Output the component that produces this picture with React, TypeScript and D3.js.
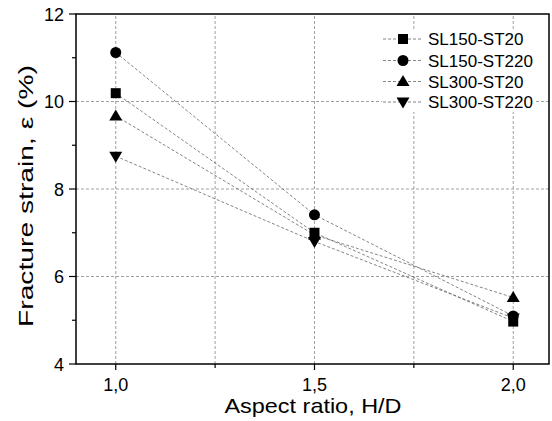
import React from "react";
import * as d3 from "d3";

const aspectRatios = [1.0, 1.5, 2.0];
const seriesNames = ["SL150-ST20", "SL150-ST220", "SL300-ST20", "SL300-ST220"];
const sl150st20 = [10.19, 7.0, 4.97];
const sl150st220 = [11.12, 7.41, 5.1];
const sl300st20 = [9.67, 6.95, 5.52];
const sl300st220 = [8.75, 6.8, 5.05];
const markerShapes = ["square", "circle", "triangleUp", "triangleDown"];
const xTicks = [1.0, 1.5, 2.0];
const xMinorTicks = [1.25, 1.75];
const yTicks = [4, 6, 8, 10, 12];
const yMinorTicks = [5, 7, 9, 11];

const W = 552;
const H = 421;
const M = { left: 76, right: 3, top: 14, bottom: 57 };

function Marker({ shape, x, y }: { shape: string; x: number; y: number }) {
  if (shape === "square") return <rect x={x - 5} y={y - 5} width={10} height={10} fill="#000" />;
  if (shape === "circle") return <circle cx={x} cy={y} r={5.5} fill="#000" />;
  if (shape === "triangleUp")
    return <path d={`M${x},${y - 6.5}L${x + 6.5},${y + 4.5}L${x - 6.5},${y + 4.5}Z`} fill="#000" />;
  return <path d={`M${x},${y + 6.5}L${x + 6.5},${y - 4.5}L${x - 6.5},${y - 4.5}Z`} fill="#000" />;
}

export default function App() {
  const x = d3.scaleLinear().domain([0.9, 2.09]).range([M.left, W - M.right]);
  const y = d3.scaleLinear().domain([4, 12]).range([H - M.bottom, M.top]);
  const all = [sl150st20, sl150st220, sl300st20, sl300st220];
  const line = d3
    .line<number>()
    .x((_, i) => x(aspectRatios[i]))
    .y((d) => y(d));
  const font = "Arial, 'Liberation Sans', sans-serif";
  const x0 = x.range()[0], x1 = x.range()[1];
  const y0 = y.range()[0], y1 = y.range()[1];
  const legendRows = [39, 60.5, 81.5, 102];
  return (
    <svg width={W} height={H} style={{ position: "absolute", left: 0, top: 0, background: "#fff" }} fontFamily={font}>
      <rect x={0} y={0} width={W} height={H} fill="#fff" />
      {/* grid */}
      {[...xTicks, ...xMinorTicks].map((t) => (
        <line key={"gx" + t} x1={x(t)} x2={x(t)} y1={y0} y2={y1} stroke="#888" strokeWidth={0.8} strokeDasharray="3,2" />
      ))}
      {[6, 8, 10].map((t) => (
        <line key={"gy" + t} x1={x0} x2={x1} y1={y(t)} y2={y(t)} stroke="#888" strokeWidth={0.8} strokeDasharray="3,2" />
      ))}
      {/* legend background */}
      <rect x={382} y={29} width={152} height={83} fill="#fff" />
      {/* lines */}
      {all.map((s, i) => (
        <path key={"l" + i} d={line(s) || ""} fill="none" stroke="#666" strokeWidth={0.8} strokeDasharray="3,2" />
      ))}
      {all.map((s, i) =>
        s.map((v, j) => <Marker key={"m" + i + "-" + j} shape={markerShapes[i]} x={x(aspectRatios[j])} y={y(v)} />)
      )}
      {/* frame */}
      <rect x={x0} y={y1} width={x1 - x0} height={y0 - y1} fill="none" stroke="#000" strokeWidth={1.5} />
      {/* x ticks */}
      {xTicks.map((t) => (
        <g key={"xt" + t}>
          <line x1={x(t)} x2={x(t)} y1={y0} y2={y0 + 6} stroke="#000" strokeWidth={1.2} />
          <text x={x(t)} y={391} textAnchor="middle" fontSize={18}>
            {d3.format(".1f")(t).replace(".", ",")}
          </text>
        </g>
      ))}
      {xMinorTicks.map((t) => (
        <line key={"xm" + t} x1={x(t)} x2={x(t)} y1={y0} y2={y0 + 4} stroke="#000" strokeWidth={1.2} />
      ))}
      {yTicks.map((t) => (
        <g key={"yt" + t}>
          <line x1={x0 - 7} x2={x0} y1={y(t)} y2={y(t)} stroke="#000" strokeWidth={1.2} />
          <text x={64} y={y(t) + 6.5} textAnchor="end" fontSize={18}>
            {t}
          </text>
        </g>
      ))}
      {yMinorTicks.map((t) => (
        <line key={"ym" + t} x1={x0 - 4} x2={x0} y1={y(t)} y2={y(t)} stroke="#000" strokeWidth={1.2} />
      ))}
      {/* axis titles */}
      <text x={313} y={413} textAnchor="middle" fontSize={21} textLength={177} lengthAdjust="spacingAndGlyphs">
        Aspect ratio, H/D
      </text>
      <text
        transform={`translate(33,196) rotate(-90)`}
        textAnchor="middle"
        fontSize={21}
        textLength={262}
        lengthAdjust="spacingAndGlyphs"
      >
        Fracture strain, ε (%)
      </text>
      {/* legend */}
      {seriesNames.map((n, i) => (
        <g key={"lg" + i}>
          <line x1={383} x2={422} y1={legendRows[i]} y2={legendRows[i]} stroke="#666" strokeWidth={0.8} strokeDasharray="3,2" />
          <Marker shape={markerShapes[i]} x={403} y={legendRows[i]} />
          <text x={428} y={legendRows[i] + 6} fontSize={17}>
            {n}
          </text>
        </g>
      ))}
    </svg>
  );
}
